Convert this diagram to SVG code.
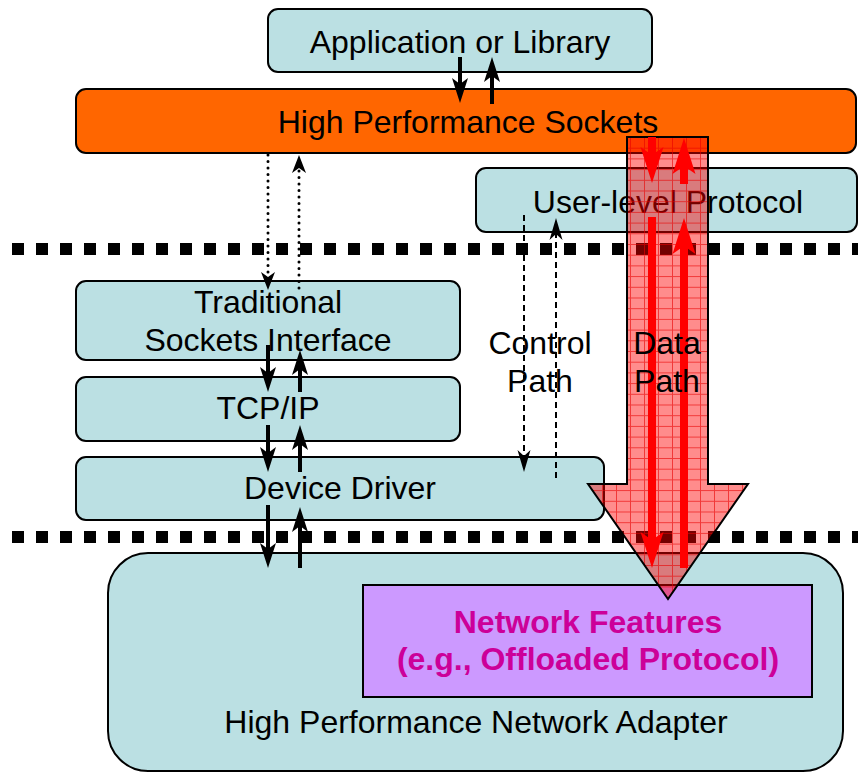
<svg xmlns="http://www.w3.org/2000/svg" width="858" height="774" viewBox="0 0 858 774">
<style>
.box{fill:#BBE0E3;stroke:#000;stroke-width:2}
.t{font-family:"Liberation Sans",Arial,sans-serif;font-size:32px;fill:#000;text-anchor:middle}
.tb{font-family:"Liberation Sans",Arial,sans-serif;font-size:32px;font-weight:bold;fill:#CC0099;text-anchor:middle}
.sep{stroke:#000;stroke-width:12;stroke-dasharray:12 12;fill:none}
.solid{stroke:#000;stroke-width:4;fill:none;marker-end:url(#ah)}
.dot{stroke:#000;stroke-width:3;stroke-linecap:round;stroke-dasharray:0 6.5;fill:none;marker-end:url(#ahd)}
.dash{stroke:#000;stroke-width:2;stroke-dasharray:6 4;fill:none;marker-end:url(#ahs)}
.red{stroke:#FF0000;stroke-width:8;fill:none;marker-end:url(#ahr)}
</style>
<defs>
<marker id="ah" markerUnits="userSpaceOnUse" markerWidth="26" markerHeight="16" refX="13" refY="8" orient="auto" overflow="visible">
<path d="M0,0 L25,8 L0,16 L6,8 Z" fill="#000"/>
</marker>
<marker id="ahd" markerUnits="userSpaceOnUse" markerWidth="18" markerHeight="14" refX="10" refY="7" orient="auto" overflow="visible">
<path d="M0,0 L18,7 L0,14 L5,7 Z" fill="#000"/>
</marker>
<marker id="ahs" markerUnits="userSpaceOnUse" markerWidth="22" markerHeight="13" refX="12" refY="6.5" orient="auto" overflow="visible">
<path d="M0,0 L22,6.5 L0,13 L6,6.5 Z" fill="#000"/>
</marker>
<marker id="ahr" markerUnits="userSpaceOnUse" markerWidth="36" markerHeight="23" refX="21" refY="11.5" orient="auto" overflow="visible">
<path d="M0,0 L36,11.5 L0,23 L8,11.5 Z" fill="#FF0000"/>
</marker>
<pattern id="grid" width="14" height="10.7" patternUnits="userSpaceOnUse" x="630" y="137">
<path d="M0,0.5 H14 M0.5,0 V10.7" stroke="#E80000" stroke-width="1" stroke-opacity="0.6" fill="none"/>
</pattern>
</defs>

<g id="separators">
<line class="sep" x1="12" y1="249" x2="858" y2="249"/>
<line class="sep" x1="12" y1="537" x2="858" y2="537"/>
</g>

<g id="app">
<rect class="box" x="268" y="9" width="384" height="63" rx="10"/>
<text class="t" x="460" y="53">Application or Library</text>
</g>
<g id="hps">
<rect x="76" y="89" width="780" height="64" rx="10" fill="#FF6600" stroke="#000" stroke-width="2"/>
<text class="t" x="468" y="133">High Performance Sockets</text>
</g>
<g id="ulp">
<rect class="box" x="476" y="168" width="381" height="64" rx="10"/>
<text class="t" x="668" y="213">User-level Protocol</text>
</g>
<g id="tsi">
<rect class="box" x="76" y="281" width="384" height="79" rx="10"/>
<text class="t" x="268" y="313">Traditional</text>
<text class="t" x="268" y="351">Sockets Interface</text>
</g>
<g id="tcpip">
<rect class="box" x="76" y="377" width="384" height="64" rx="10"/>
<text class="t" x="268" y="419">TCP/IP</text>
</g>
<g id="driver">
<rect class="box" x="76" y="457" width="528" height="63" rx="10"/>
<text class="t" x="340" y="499">Device Driver</text>
</g>
<g id="adapter">
<rect class="box" x="108" y="553" width="735" height="218" rx="40"/>
<text class="t" x="476" y="733">High Performance Network Adapter</text>
</g>
<g id="features">
<rect x="363" y="585" width="449" height="112" fill="#CC99FF" stroke="#000" stroke-width="2"/>
<text class="tb" x="588" y="633">Network Features</text>
<text class="tb" x="588" y="670">(e.g., Offloaded Protocol)</text>
</g>
<g id="control-label">
<text class="t" x="540" y="354">Control</text>
<text class="t" x="540" y="392">Path</text>
</g>

<g id="connectors">
<line class="solid" x1="460" y1="57" x2="460" y2="91"/>
<line class="solid" x1="492" y1="104" x2="492" y2="69"/>
<line class="dot" x1="268" y1="155" x2="268" y2="282"/>
<line class="dot" x1="299" y1="288" x2="299" y2="163"/>
<line class="solid" x1="268" y1="345" x2="268" y2="380"/>
<line class="solid" x1="300" y1="392" x2="300" y2="362"/>
<line class="solid" x1="268" y1="425" x2="268" y2="460"/>
<line class="solid" x1="300" y1="472" x2="300" y2="437"/>
<line class="solid" x1="268" y1="505" x2="268" y2="556"/>
<line class="solid" x1="300" y1="568" x2="300" y2="519"/>
<line class="dash" x1="524" y1="215" x2="524" y2="462"/>
<line class="dash" x1="556" y1="478" x2="556" y2="228"/>
<g id="data-arrow">
<path d="M627,137 H708 V484 H748 L668,599 L588,484 H627 Z" fill="#FF0000" fill-opacity="0.45"/>
<path d="M627,137 H708 V484 H748 L668,599 L588,484 H627 Z" fill="url(#grid)" stroke="#000" stroke-width="2"/>
</g>
<line class="red" x1="652" y1="137" x2="652" y2="168"/>
<line class="red" x1="684" y1="184" x2="684" y2="153"/>
<line class="red" x1="652" y1="217" x2="652" y2="553"/>
<line class="red" x1="684" y1="568" x2="684" y2="233"/>
</g>
<g id="data-label">
<text class="t" x="667" y="354">Data</text>
<text class="t" x="667" y="392">Path</text>
</g>
</svg>
